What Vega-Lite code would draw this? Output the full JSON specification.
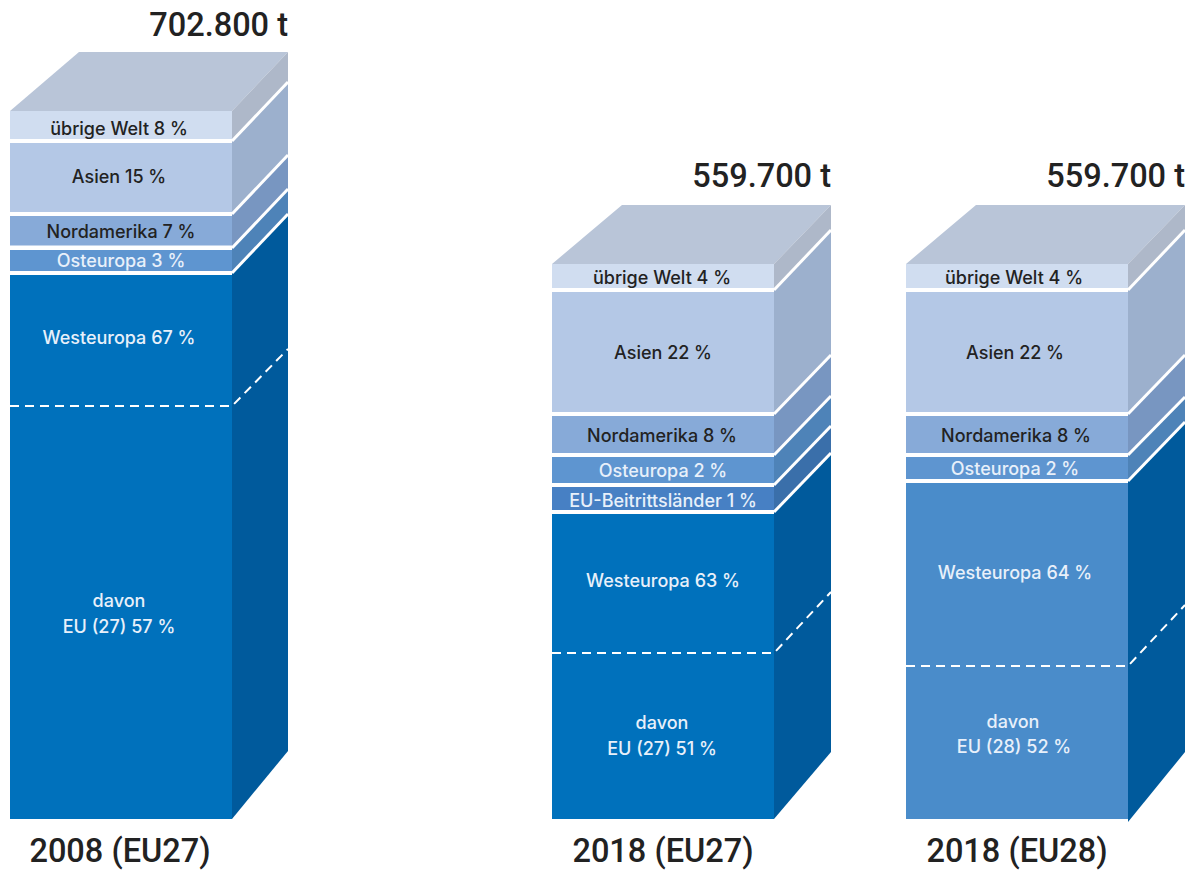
{
"$schema":"https://vega.github.io/schema/vega-lite/v6.json",
"width":1193,"height":870,"padding":0,
"autosize":{"type":"fit","contains":"padding"},
"background":"white",
"config":{"view":{"stroke":null},"text":{"font":"Inter"}},
"datasets":{
"flaechen":[
{"id":"a0","teil":"Deckel","x":10,"y":708,"y2":708},{"id":"a0","teil":"Deckel","x":79,"y":767,"y2":708},{"id":"a0","teil":"Deckel","x":232,"y":767,"y2":708},{"id":"a0","teil":"Deckel","x":288,"y":767,"y2":767},
{"id":"b0","teil":"Deckel","x":552,"y":555,"y2":555},{"id":"b0","teil":"Deckel","x":622,"y":614,"y2":555},{"id":"b0","teil":"Deckel","x":774,"y":614,"y2":555},{"id":"b0","teil":"Deckel","x":831,"y":614,"y2":614},
{"id":"c0","teil":"Deckel","x":906,"y":555,"y2":555},{"id":"c0","teil":"Deckel","x":976,"y":614,"y2":555},{"id":"c0","teil":"Deckel","x":1128,"y":614,"y2":555},{"id":"c0","teil":"Deckel","x":1185,"y":614,"y2":614},
{"id":"a1","teil":"übrige Welt Seite","x":232,"y":708,"y2":678},{"id":"a1","teil":"übrige Welt Seite","x":288,"y":767,"y2":737},
{"id":"a2","teil":"Asien Seite","x":232,"y":678,"y2":605},{"id":"a2","teil":"Asien Seite","x":288,"y":737,"y2":664},
{"id":"a3","teil":"Nordamerika Seite","x":232,"y":605,"y2":571},{"id":"a3","teil":"Nordamerika Seite","x":288,"y":664,"y2":630},
{"id":"a4","teil":"Osteuropa Seite","x":232,"y":571,"y2":546},{"id":"a4","teil":"Osteuropa Seite","x":288,"y":630,"y2":605},
{"id":"a5","teil":"Westeuropa Seite","x":232,"y":546,"y2":0},{"id":"a5","teil":"Westeuropa Seite","x":288,"y":605,"y2":68},
{"id":"b1","teil":"übrige Welt Seite","x":774,"y":555,"y2":529},{"id":"b1","teil":"übrige Welt Seite","x":831,"y":614,"y2":589},
{"id":"b2","teil":"Asien Seite","x":774,"y":529,"y2":405},{"id":"b2","teil":"Asien Seite","x":831,"y":589,"y2":464},
{"id":"b3","teil":"Nordamerika Seite","x":774,"y":405,"y2":364},{"id":"b3","teil":"Nordamerika Seite","x":831,"y":464,"y2":423},
{"id":"b4","teil":"Osteuropa Seite","x":774,"y":364,"y2":334},{"id":"b4","teil":"Osteuropa Seite","x":831,"y":423,"y2":393},
{"id":"b5","teil":"EU-Beitrittsländer Seite","x":774,"y":334,"y2":307},{"id":"b5","teil":"EU-Beitrittsländer Seite","x":831,"y":393,"y2":366},
{"id":"b6","teil":"Westeuropa Seite","x":774,"y":307,"y2":0},{"id":"b6","teil":"Westeuropa Seite","x":831,"y":366,"y2":67},
{"id":"c1","teil":"übrige Welt Seite","x":1128,"y":555,"y2":529},{"id":"c1","teil":"übrige Welt Seite","x":1185,"y":614,"y2":589},
{"id":"c2","teil":"Asien Seite","x":1128,"y":529,"y2":405},{"id":"c2","teil":"Asien Seite","x":1185,"y":589,"y2":464},
{"id":"c3","teil":"Nordamerika Seite","x":1128,"y":405,"y2":364},{"id":"c3","teil":"Nordamerika Seite","x":1185,"y":464,"y2":422},
{"id":"c4","teil":"Osteuropa Seite","x":1128,"y":364,"y2":338},{"id":"c4","teil":"Osteuropa Seite","x":1185,"y":422,"y2":397},
{"id":"c5","teil":"Westeuropa Seite","x":1128,"y":338,"y2":-3},{"id":"c5","teil":"Westeuropa Seite","x":1185,"y":397,"y2":67}
],
"front":[
{"teil":"übrige Welt","x":10,"x2":232,"y":708,"y2":680},
{"teil":"Asien","x":10,"x2":232,"y":676,"y2":607},
{"teil":"Nordamerika","x":10,"x2":232,"y":603,"y2":573.5},
{"teil":"Osteuropa","x":10,"x2":232,"y":569,"y2":548},
{"teil":"Westeuropa","x":10,"x2":232,"y":544,"y2":0},
{"teil":"übrige Welt","x":552,"x2":774,"y":555,"y2":531},
{"teil":"Asien","x":552,"x2":774,"y":527,"y2":407},
{"teil":"Nordamerika","x":552,"x2":774,"y":403,"y2":366},
{"teil":"Osteuropa","x":552,"x2":774,"y":362,"y2":336},
{"teil":"EU-Beitrittsländer","x":552,"x2":774,"y":332,"y2":309},
{"teil":"Westeuropa","x":552,"x2":774,"y":305,"y2":0},
{"teil":"übrige Welt","x":906,"x2":1128,"y":555,"y2":531},
{"teil":"Asien","x":906,"x2":1128,"y":527,"y2":407},
{"teil":"Nordamerika","x":906,"x2":1128,"y":403,"y2":366},
{"teil":"Osteuropa","x":906,"x2":1128,"y":362,"y2":340},
{"teil":"Westeuropa EU28","x":906,"x2":1128,"y":336,"y2":0}
],
"kanten":[
{"id":"a1","x":232,"y":678},{"id":"a1","x":288,"y":737},
{"id":"a2","x":232,"y":605},{"id":"a2","x":288,"y":664},
{"id":"a3","x":232,"y":571},{"id":"a3","x":288,"y":630},
{"id":"a4","x":232,"y":546},{"id":"a4","x":288,"y":605},
{"id":"b1","x":774,"y":529},{"id":"b1","x":831,"y":589},
{"id":"b2","x":774,"y":405},{"id":"b2","x":831,"y":464},
{"id":"b3","x":774,"y":364},{"id":"b3","x":831,"y":423},
{"id":"b4","x":774,"y":334},{"id":"b4","x":831,"y":393},
{"id":"b5","x":774,"y":307},{"id":"b5","x":831,"y":366},
{"id":"c1","x":1128,"y":529},{"id":"c1","x":1185,"y":589},
{"id":"c2","x":1128,"y":405},{"id":"c2","x":1185,"y":464},
{"id":"c3","x":1128,"y":364},{"id":"c3","x":1185,"y":422},
{"id":"c4","x":1128,"y":338},{"id":"c4","x":1185,"y":397}
],
"eu":[
{"id":"a","x":10,"y":413},{"id":"a","x":232,"y":413},{"id":"a","x":288,"y":470},
{"id":"b","x":552,"y":166},{"id":"b","x":774,"y":166},{"id":"b","x":831,"y":227},
{"id":"c","x":906,"y":153},{"id":"c","x":1128,"y":153},{"id":"c","x":1185,"y":214}
],
"dunkel":[
{"t":"übrige Welt 8 %","x":119,"y":691},{"t":"Asien 15 %","x":119,"y":643},{"t":"Nordamerika 7 %","x":121,"y":588},
{"t":"übrige Welt 4 %","x":662,"y":542},{"t":"Asien 22 %","x":663,"y":467},{"t":"Nordamerika 8 %","x":662,"y":384},
{"t":"übrige Welt 4 %","x":1014,"y":542},{"t":"Asien 22 %","x":1015,"y":467},{"t":"Nordamerika 8 %","x":1016,"y":384}
],
"hell":[
{"t":"Osteuropa 3 %","x":121,"y":559},{"t":"Westeuropa 67 %","x":119,"y":482},{"t":"davon","x":119,"y":219},{"t":"EU (27) 57 %","x":119,"y":193},
{"t":"Osteuropa 2 %","x":663,"y":349},{"t":"EU-Beitrittsländer 1 %","x":663,"y":319},{"t":"Westeuropa 63 %","x":663,"y":239},{"t":"davon","x":662,"y":97},{"t":"EU (27) 51 %","x":662,"y":71},
{"t":"Osteuropa 2 %","x":1015,"y":351},{"t":"Westeuropa 64 %","x":1015,"y":247},{"t":"davon","x":1013,"y":98},{"t":"EU (28) 52 %","x":1014,"y":73}
],
"summe":[
{"t":"702.800 t","x":288,"y":795},{"t":"559.700 t","x":831,"y":644},{"t":"559.700 t","x":1185,"y":644}
],
"jahr":[
{"t":"2008 (EU27)","x":120,"y":-31},{"t":"2018 (EU27)","x":663,"y":-31},{"t":"2018 (EU28)","x":1017,"y":-31}
]
},
"encoding":{
"x":{"field":"x","type":"quantitative","scale":{"domain":[0,1193]},"axis":null},
"y":{"field":"y","type":"quantitative","scale":{"domain":[-51,819]},"axis":null}
},
"layer":[
{"data":{"name":"flaechen"},"mark":{"type":"area","strokeWidth":0},
 "encoding":{"y":{"field":"y","type":"quantitative","stack":null,"scale":{"domain":[-51,819]},"axis":null},"y2":{"field":"y2"},"detail":{"field":"id"},
 "color":{"field":"teil","type":"nominal","legend":null,"scale":{
  "domain":["Deckel","übrige Welt Seite","Asien Seite","Nordamerika Seite","Osteuropa Seite","EU-Beitrittsländer Seite","Westeuropa Seite","übrige Welt","Asien","Nordamerika","Osteuropa","EU-Beitrittsländer","Westeuropa","Westeuropa EU28"],
  "range":["#b9c5d8","#aeb8c9","#9cb0cd","#7896c1","#4e83b8","#3a6faa","#005a9c","#d0ddf0","#b4c8e6","#87aad8","#5e95d0","#4780c4","#0071bc","#4a8cca"]}}}},
{"data":{"name":"front"},"mark":{"type":"rect"},
 "encoding":{"x2":{"field":"x2"},"y2":{"field":"y2"},"color":{"field":"teil","type":"nominal","legend":null}}},
{"data":{"name":"kanten"},"mark":{"type":"line","color":"white","strokeWidth":3},"encoding":{"detail":{"field":"id"}}},
{"data":{"name":"eu"},"mark":{"type":"line","color":"white","strokeWidth":2,"strokeDash":[9,6]},"encoding":{"detail":{"field":"id"}}},
{"data":{"name":"dunkel"},"mark":{"type":"text","fontSize":18,"fontWeight":500,"color":"#222222","baseline":"middle","align":"center","dy":1.5},"encoding":{"text":{"field":"t"}}},
{"data":{"name":"hell"},"mark":{"type":"text","fontSize":18,"fontWeight":500,"color":"#e8f0fa","baseline":"middle","align":"center","dy":1.5},"encoding":{"text":{"field":"t"}}},
{"data":{"name":"summe"},"mark":{"type":"text","font":"Roboto","fontSize":32.5,"fontWeight":500,"color":"#222222","baseline":"middle","align":"right","dy":2},"encoding":{"text":{"field":"t"}}},
{"data":{"name":"jahr"},"mark":{"type":"text","font":"Roboto","fontSize":32.5,"fontWeight":500,"color":"#222222","baseline":"middle","align":"center","dy":2},"encoding":{"text":{"field":"t"}}}
]
}
